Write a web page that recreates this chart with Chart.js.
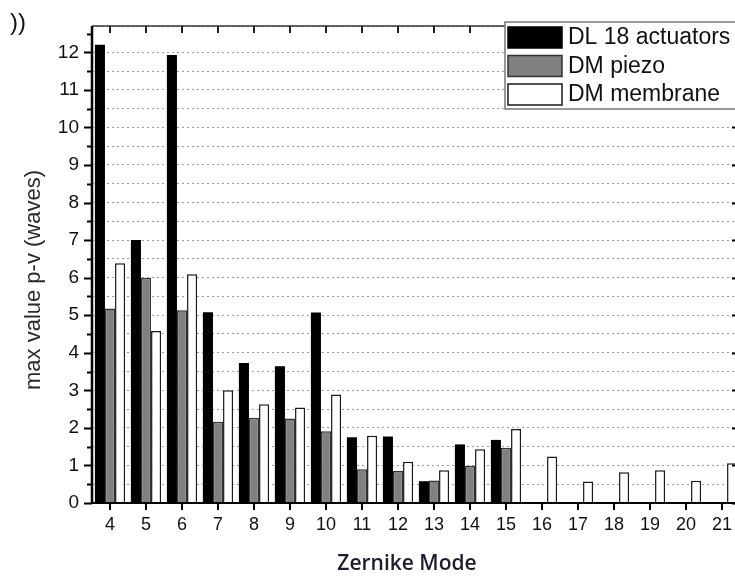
<!DOCTYPE html>
<html><head><meta charset="utf-8">
<script src="https://cdn.jsdelivr.net/npm/chart.js@4"></script>
<style>
html,body{margin:0;padding:0;overflow:hidden;background:#fff;width:735px;height:576px}
#wrap{position:absolute;left:0;top:0;width:745px;height:576px}
</style>
</head><body><div id="wrap"><canvas id="c" width="745" height="576"></canvas></div>
<script>
const modes = ['4','5','6','7','8','9','10','11','12','13','14','15','16','17','18','19','20','21'];
const dl18 = [12.2, 7.0, 11.93, 5.08, 3.73, 3.64, 5.07, 1.75, 1.77, 0.58, 1.56, 1.68, null, null, null, null, null, null];
const dmPiezo = [5.18, 6.0, 5.13, 2.16, 2.27, 2.25, 1.91, 0.90, 0.85, 0.60, 0.99, 1.47, null, null, null, null, null, null];
const dmMembrane = [6.38, 4.58, 6.09, 3.0, 2.63, 2.54, 2.89, 1.79, 1.10, 0.87, 1.43, 1.97, 1.24, 0.57, 0.82, 0.87, 0.59, 1.06];
const seriesNames = ['DL 18 actuators', 'DM piezo', 'DM membrane'];
const yMin = 0, yMax = 12.7, yStep = 0.5;
const yTitle = 'max value p-v (waves)';
const xTitle = 'Zernike Mode';
const cornerText = '))';

const decor = {
  id: 'decor',
  afterDraw(chart) {
    const ctx = chart.ctx, a = chart.chartArea;
    const ys = chart.scales.y, xs = chart.scales.x;
    ctx.save();
    ctx.lineWidth = 1.5; ctx.strokeStyle = '#333';
    ctx.beginPath(); ctx.moveTo(a.left, a.top); ctx.lineTo(a.right, a.top); ctx.stroke();
    ctx.strokeStyle = '#000';
    ctx.lineWidth = 2.5;
    ctx.beginPath(); ctx.moveTo(a.left, a.top); ctx.lineTo(a.left, a.bottom + 1); ctx.stroke();
    ctx.beginPath(); ctx.moveTo(a.right, a.top); ctx.lineTo(a.right, a.bottom + 1); ctx.stroke();
    ctx.lineWidth = 2;
    ctx.beginPath(); ctx.moveTo(a.left - 1, a.bottom); ctx.lineTo(a.right, a.bottom); ctx.stroke();
    ctx.lineWidth = 2;
    for (let v = yMin; v <= 12.5 + 1e-9; v += yStep) {
      const y = Math.round(ys.getPixelForValue(v)) + 0.5;
      const major = Math.abs(v - Math.round(v)) < 1e-9;
      const len = major ? 8 : 5;
      ctx.beginPath(); ctx.moveTo(a.left - len, y); ctx.lineTo(a.left, y); ctx.stroke();
      ctx.beginPath(); ctx.moveTo(a.right, y); ctx.lineTo(a.right - len, y); ctx.stroke();
    }
    ctx.lineWidth = 2; ctx.strokeStyle = '#222';
    modes.forEach((m, i) => {
      const x = xs.getPixelForValue(i);
      ctx.beginPath(); ctx.moveTo(x, a.top); ctx.lineTo(x, a.top + 7); ctx.stroke();
    });
    const lx = 505, ly = 22, lw = 240, lh = 87;
    ctx.fillStyle = '#fff'; ctx.fillRect(lx, ly, lw, lh);
    ctx.strokeStyle = '#777'; ctx.lineWidth = 1.5; ctx.strokeRect(lx, ly, lw, lh);
    ctx.font = '23px "Liberation Sans", Arial, sans-serif';
    ctx.textBaseline = 'middle'; ctx.textAlign = 'left';
    chart.data.datasets.forEach((ds, i) => {
      const sy = 27 + i * 28.5;
      ctx.fillStyle = ds.backgroundColor;
      ctx.fillRect(508, sy, 54, 21);
      ctx.strokeStyle = i === 0 ? '#000' : ds.borderColor; ctx.lineWidth = 1.5;
      ctx.strokeRect(508, sy, 54, 21);
      ctx.fillStyle = '#111';
      ctx.fillText(ds.label, 568, sy + 11);
    });
    ctx.fillStyle = '#2a2a2a';
    ctx.font = '22px "Liberation Sans", Arial, sans-serif';
    ctx.save();
    ctx.translate(34, 280); ctx.rotate(-Math.PI / 2);
    ctx.textAlign = 'center'; ctx.textBaseline = 'middle';
    ctx.fillText(yTitle, 0, 0);
    ctx.restore();
    ctx.fillStyle = '#1c1c2e';
    ctx.font = '600 21px "Open Sans", sans-serif';
    ctx.textAlign = 'center'; ctx.textBaseline = 'middle';
    ctx.fillText(xTitle, 407, 564);
    ctx.fillStyle = '#111';
    ctx.font = '24px "Liberation Sans", Arial, sans-serif';
    ctx.textAlign = 'left'; ctx.textBaseline = 'alphabetic';
    ctx.fillText(cornerText, 10, 30);
    ctx.restore();
  }
};

new Chart(document.getElementById('c'), {
  type: 'bar',
  data: {
    labels: modes,
    datasets: [
      { label: seriesNames[0], data: dl18, backgroundColor: '#000', borderColor: '#000', borderWidth: 0 },
      { label: seriesNames[1], data: dmPiezo, backgroundColor: '#808080', borderColor: '#333', borderWidth: 1.5 },
      { label: seriesNames[2], data: dmMembrane, backgroundColor: '#fff', borderColor: '#1a1a1a', borderWidth: 1.5 }
    ]
  },
  options: {
    responsive: false,
    animation: false,
    devicePixelRatio: 1,
    layout: { padding: { left: 0, top: 26, right: 5, bottom: 0 } },
    datasets: { bar: { categoryPercentage: 0.84, barPercentage: 1.0 } },
    plugins: { legend: { display: false }, tooltip: { enabled: false } },
    scales: {
      x: {
        afterFit(s) { s.height = 73; },
        grid: { display: true, drawOnChartArea: false, offset: false, tickLength: 7, color: '#000', lineWidth: 2 },
        border: { display: false },
        ticks: { color: '#111', padding: 4, font: { family: '"Liberation Sans", Arial, sans-serif', size: 18 }, autoSkip: false, maxRotation: 0 }
      },
      y: {
        min: yMin, max: yMax,
        afterFit(s) { s.width = 92; },
        grid: { color: '#999', lineWidth: 1, drawTicks: false },
        border: { display: false, dash: [2, 3] },
        ticks: {
          stepSize: yStep, autoSkip: false, padding: 13, color: '#111',
          font: { family: '"Liberation Sans", Arial, sans-serif', size: 19 },
          callback: v => (Math.abs(v - Math.round(v)) < 1e-9 && v <= 12) ? String(Math.round(v)) : ''
        }
      }
    }
  },
  plugins: [decor]
});
</script>
</body></html>
